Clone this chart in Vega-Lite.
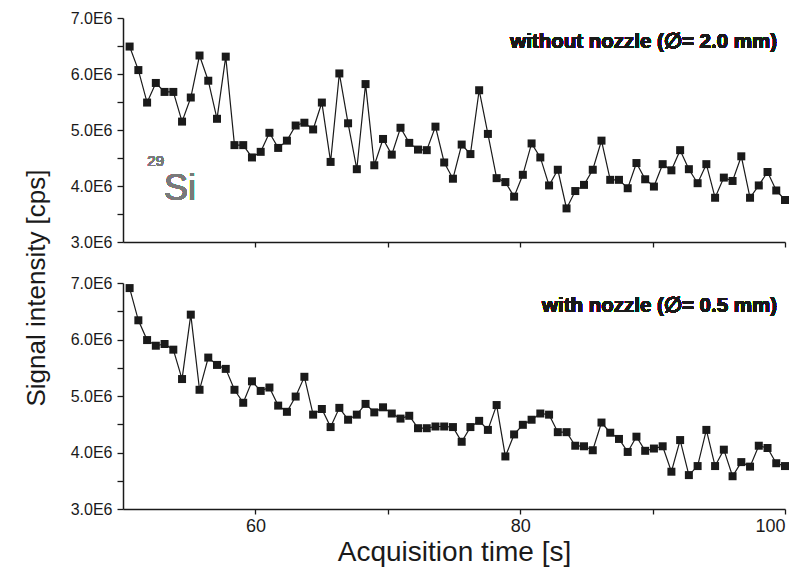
{
 "$schema": "https://vega.github.io/schema/vega-lite/v6.json",
 "background": "white",
 "padding": {"left": 24, "top": 10, "right": 10, "bottom": 2},
 "config": {
  "view": {"stroke": null},
  "font": "Liberation Sans",
  "concat": {"spacing": 25},
  "axis": {"domainColor": "#1a1a1a", "tickColor": "#1a1a1a", "labelColor": "#1a1a1a", "titleColor": "#1a1a1a", "grid": false, "domainWidth": 1.5, "tickWidth": 1.3, "labelFont": "Liberation Sans", "titleFont": "Liberation Sans", "titleFontWeight": "normal"}
 },
 "title": {"text": "Signal intensity [cps]", "orient": "left", "anchor": "middle", "fontSize": 26, "fontWeight": "normal", "color": "#1a1a1a", "offset": 20},
 "datasets": {
  "top": [
   {"t":50.5,"v":6490000},{"t":51.16,"v":6070000},{"t":51.82,"v":5490000},{"t":52.48,"v":5840000},{"t":53.14,"v":5680000},{"t":53.8,"v":5680000},{"t":54.46,"v":5150000},{"t":55.12,"v":5580000},{"t":55.78,"v":6330000},{"t":56.44,"v":5880000},
   {"t":57.1,"v":5200000},{"t":57.76,"v":6310000},{"t":58.42,"v":4730000},{"t":59.08,"v":4730000},{"t":59.74,"v":4510000},{"t":60.4,"v":4610000},{"t":61.06,"v":4950000},{"t":61.72,"v":4680000},{"t":62.38,"v":4810000},{"t":63.04,"v":5080000},
   {"t":63.7,"v":5130000},{"t":64.36,"v":5010000},{"t":65.02,"v":5490000},{"t":65.68,"v":4430000},{"t":66.34,"v":6010000},{"t":67.0,"v":5120000},{"t":67.66,"v":4300000},{"t":68.32,"v":5820000},{"t":68.98,"v":4370000},{"t":69.64,"v":4840000},
   {"t":70.3,"v":4560000},{"t":70.96,"v":5040000},{"t":71.62,"v":4770000},{"t":72.28,"v":4650000},{"t":72.94,"v":4640000},{"t":73.6,"v":5060000},{"t":74.26,"v":4420000},{"t":74.92,"v":4130000},{"t":75.58,"v":4740000},{"t":76.24,"v":4570000},
   {"t":76.9,"v":5710000},{"t":77.56,"v":4930000},{"t":78.22,"v":4140000},{"t":78.88,"v":4070000},{"t":79.54,"v":3810000},{"t":80.2,"v":4200000},{"t":80.86,"v":4760000},{"t":81.52,"v":4510000},{"t":82.18,"v":4010000},{"t":82.84,"v":4290000},
   {"t":83.5,"v":3600000},{"t":84.16,"v":3910000},{"t":84.82,"v":4020000},{"t":85.48,"v":4290000},{"t":86.14,"v":4810000},{"t":86.8,"v":4110000},{"t":87.46,"v":4110000},{"t":88.12,"v":3960000},{"t":88.78,"v":4410000},{"t":89.44,"v":4120000},
   {"t":90.1,"v":3990000},{"t":90.76,"v":4390000},{"t":91.42,"v":4280000},{"t":92.08,"v":4640000},{"t":92.74,"v":4300000},{"t":93.4,"v":4050000},{"t":94.06,"v":4390000},{"t":94.72,"v":3790000},{"t":95.38,"v":4150000},{"t":96.04,"v":4090000},
   {"t":96.7,"v":4530000},{"t":97.36,"v":3790000},{"t":98.02,"v":4010000},{"t":98.68,"v":4250000},{"t":99.34,"v":3920000},{"t":100.0,"v":3750000}
  ],
  "bottom": [
   {"t":50.5,"v":6910000},{"t":51.16,"v":6340000},{"t":51.82,"v":5990000},{"t":52.48,"v":5890000},{"t":53.14,"v":5920000},{"t":53.8,"v":5820000},{"t":54.46,"v":5300000},{"t":55.12,"v":6440000},{"t":55.78,"v":5110000},{"t":56.44,"v":5680000},
   {"t":57.1,"v":5550000},{"t":57.76,"v":5480000},{"t":58.42,"v":5110000},{"t":59.08,"v":4880000},{"t":59.74,"v":5260000},{"t":60.4,"v":5090000},{"t":61.06,"v":5150000},{"t":61.72,"v":4830000},{"t":62.38,"v":4720000},{"t":63.04,"v":4990000},
   {"t":63.7,"v":5340000},{"t":64.36,"v":4670000},{"t":65.02,"v":4770000},{"t":65.68,"v":4450000},{"t":66.34,"v":4790000},{"t":67.0,"v":4580000},{"t":67.66,"v":4670000},{"t":68.32,"v":4860000},{"t":68.98,"v":4710000},{"t":69.64,"v":4800000},
   {"t":70.3,"v":4690000},{"t":70.96,"v":4600000},{"t":71.62,"v":4650000},{"t":72.28,"v":4430000},{"t":72.94,"v":4430000},{"t":73.6,"v":4460000},{"t":74.26,"v":4460000},{"t":74.92,"v":4450000},{"t":75.58,"v":4190000},{"t":76.24,"v":4450000},
   {"t":76.9,"v":4560000},{"t":77.56,"v":4400000},{"t":78.22,"v":4840000},{"t":78.88,"v":3930000},{"t":79.54,"v":4320000},{"t":80.2,"v":4490000},{"t":80.86,"v":4580000},{"t":81.52,"v":4690000},{"t":82.18,"v":4670000},{"t":82.84,"v":4360000},
   {"t":83.5,"v":4360000},{"t":84.16,"v":4120000},{"t":84.82,"v":4110000},{"t":85.48,"v":4040000},{"t":86.14,"v":4530000},{"t":86.8,"v":4350000},{"t":87.46,"v":4240000},{"t":88.12,"v":4010000},{"t":88.78,"v":4280000},{"t":89.44,"v":4030000},
   {"t":90.1,"v":4070000},{"t":90.76,"v":4110000},{"t":91.42,"v":3660000},{"t":92.08,"v":4220000},{"t":92.74,"v":3600000},{"t":93.4,"v":3760000},{"t":94.06,"v":4400000},{"t":94.72,"v":3760000},{"t":95.38,"v":4050000},{"t":96.04,"v":3580000},
   {"t":96.7,"v":3830000},{"t":97.36,"v":3750000},{"t":98.02,"v":4120000},{"t":98.68,"v":4080000},{"t":99.34,"v":3810000},{"t":100.0,"v":3760000}
  ]
 },
 "vconcat": [
  {
   "width": 662, "height": 224,
   "data": {"name": "top"},
   "encoding": {
    "x": {"field": "t", "type": "quantitative", "scale": {"domain": [50, 100], "nice": false, "zero": false},
          "axis": {"values": [60, 70, 80, 90, 100], "labels": false, "title": null, "tickSize": 5}},
    "y": {"field": "v", "type": "quantitative", "scale": {"domain": [3000000, 7000000], "nice": false, "zero": false},
          "axis": {"values": [3000000, 3500000, 4000000, 4500000, 5000000, 5500000, 6000000, 6500000, 7000000],
                   "labelExpr": "datum.value % 1000000 == 0 ? format(datum.value/1000000, '.1f') + 'E6' : ''",
                   "title": null, "tickSize": 6, "labelFontSize": 16, "labelPadding": 5}}
   },
   "layer": [
    {"mark": {"type": "line", "color": "#1a1a1a", "strokeWidth": 1.2}},
    {"mark": {"type": "point", "shape": "square", "filled": true, "color": "#1a1a1a", "size": 64, "opacity": 1}},
    {"mark": {"type": "text", "text": "without nozzle (\u2205= 2.0 mm)", "align": "right", "baseline": "middle", "fontSize": 20.5, "fontWeight": "bold", "color": "#1a1a1a"},
     "encoding": {"x": {"datum": 99.4}, "y": {"datum": 6570000}}},
    {"mark": {"type": "text", "text": "Si", "align": "left", "baseline": "alphabetic", "fontSize": 36, "color": "#7a7a7a"},
     "encoding": {"x": {"datum": 53.1}, "y": {"datum": 3750000}}},
    {"mark": {"type": "text", "text": "29", "align": "right", "baseline": "alphabetic", "fontSize": 15, "color": "#7a7a7a"},
     "encoding": {"x": {"datum": 53.1}, "y": {"datum": 4350000}}}
   ]
  },
  {
   "width": 662, "height": 226,
   "data": {"name": "bottom"},
   "encoding": {
    "x": {"field": "t", "type": "quantitative", "scale": {"domain": [50, 100], "nice": false, "zero": false},
          "axis": {"values": [60, 70, 80, 90, 100], "labelExpr": "datum.value % 20 == 0 ? datum.value : ''",
                   "title": "Acquisition time [s]", "tickSize": 5, "labelFontSize": 18, "labelPadding": 3, "titleFontSize": 28, "titlePadding": 3}},
    "y": {"field": "v", "type": "quantitative", "scale": {"domain": [3000000, 7000000], "nice": false, "zero": false},
          "axis": {"values": [3000000, 3500000, 4000000, 4500000, 5000000, 5500000, 6000000, 6500000, 7000000],
                   "labelExpr": "datum.value % 1000000 == 0 ? format(datum.value/1000000, '.1f') + 'E6' : ''",
                   "title": null, "tickSize": 6, "labelFontSize": 16, "labelPadding": 5}}
   },
   "layer": [
    {"mark": {"type": "line", "color": "#1a1a1a", "strokeWidth": 1.2}},
    {"mark": {"type": "point", "shape": "square", "filled": true, "color": "#1a1a1a", "size": 64, "opacity": 1}},
    {"mark": {"type": "text", "text": "with nozzle (\u2205= 0.5 mm)", "align": "right", "baseline": "middle", "fontSize": 20.5, "fontWeight": "bold", "color": "#1a1a1a"},
     "encoding": {"x": {"datum": 99.4}, "y": {"datum": 6590000}}}
   ]
  }
 ]
}
